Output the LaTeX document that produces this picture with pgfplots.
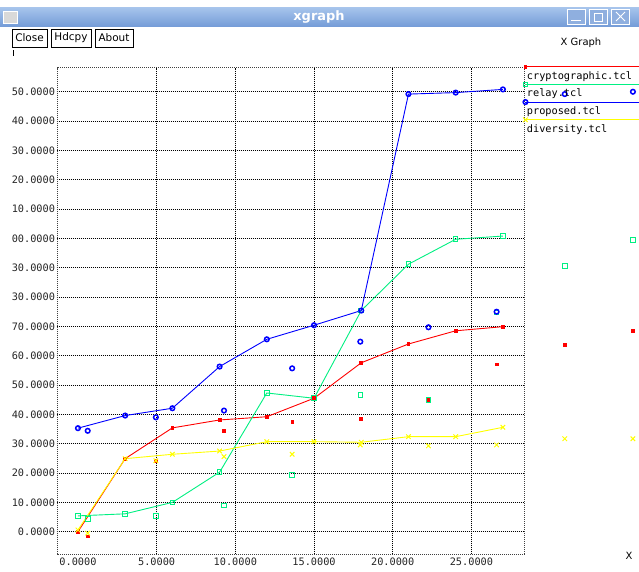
\documentclass[border=0pt]{standalone}
\usepackage{pgfplots}
\pgfplotsset{compat=1.18}
\usepackage{fontspec}
\setmainfont{DejaVu Sans}
\newfontfamily\monof{DejaVu Sans Mono}
\definecolor{xred}{RGB}{255,0,0}
\definecolor{xgreen}{RGB}{0,240,130}
\definecolor{xblue}{RGB}{0,0,255}
\definecolor{xyellow}{RGB}{255,255,0}
\definecolor{titleA}{RGB}{165,195,235}
\definecolor{titleB}{RGB}{115,155,215}
\begin{document}
\begin{tikzpicture}[x=1bp,y=1bp]
\useasboundingbox (0,0) rectangle (639,572);
\fill[white] (0,0) rectangle (639,572);
% window chrome
\shade[top color=titleA, bottom color=titleB] (0,545) rectangle (639,564);
\fill[black!15] (3,549) rectangle (17,561);
\draw[white] (3,549) rectangle (17,561);
\node[white, font=\bfseries\fontsize{13}{15}\selectfont] at (319,555) {xgraph};
\foreach \xx in {567,589,611}{\draw[white, fill=titleB!80] (\xx,548) rectangle (\xx+18,563);}
\draw[white, line width=1bp] (571,551) -- (581,551);
\draw[white, line width=0.8bp] (594,551) rectangle (602,559);
\draw[white, line width=1bp] (616,551) -- (625,560) (616,560) -- (625,551);
\draw[black, fill=white] (12,525) rectangle (47,543);
\draw[black, fill=white] (51,525) rectangle (91,543);
\draw[black, fill=white] (95,525) rectangle (133,543);
\node[font=\fontsize{10.5}{12}\selectfont] at (29.5,534) {Close};
\node[font=\fontsize{10.5}{12}\selectfont] at (71,534) {Hdcpy};
\node[font=\fontsize{10.5}{12}\selectfont] at (114,534) {About};
\draw[black] (13,516) -- (13,522);
\node[font=\fontsize{10}{12}\selectfont] at (581,529) {X Graph};
\node[font=\fontsize{10}{12}\selectfont] at (629,16) {X};
\begin{axis}[
  at={(56.7bp,17.7bp)}, anchor=south west,
  scale only axis, width=467.6bp, height=486.6bp,
  xmin=-1.35, xmax=28.36, ymin=-7.7, ymax=158.2,
  clip=false,
  axis line style={black!75, dash pattern=on 1bp off 1bp},
  grid=major,
  grid style={black, dash pattern=on 1bp off 1bp, line width=0.5bp},
  major tick length=0pt,
  xtick={5,10,15,20,25},
  xticklabels={5.0000,10.0000,15.0000,20.0000,25.0000},
  extra x ticks={0}, extra x tick labels={0.0000},
  extra x tick style={grid=none},
  ytick={0,10,...,150},
  yticklabels={0.0000,10.0000,20.0000,30.0000,40.0000,50.0000,60.0000,70.0000,30.0000,30.0000,00.0000,10.0000,20.0000,30.0000,40.0000,50.0000},
  tick label style={font=\monof\fontsize{10.3}{12}\selectfont, text=black!85},
  xticklabel style={inner sep=1bp, yshift=-2bp},
  yticklabel style={inner sep=1bp, xshift=-0.5bp},
  legend cell align=left,
  legend style={draw=none, fill=none, inner sep=0pt, outer sep=0pt,
    at={(1.0015,0.9947)}, anchor=north west,
    font=\monof\fontsize{10.3}{12}\selectfont,
    row sep=5.7bp, column sep=1bp,
    cells={anchor=base west},
    nodes={text height=9bp, text depth=3bp, inner sep=0pt}},
  legend image code/.code={
    \draw[overlay, #1, mark=none] (0bp,12.6bp) -- (114bp,12.6bp);
    \draw[overlay, #1, only marks] plot coordinates {(0bp,12.6bp)};
    \path (0,0);
  },
]
% cryptographic.tcl
\addplot[xred, line width=0.9bp, mark=square*, mark size=1.4bp] coordinates {
 (0,0) (3,24.9) (6,35.4) (9,38.1) (12,39.2) (15,45.5) (18,57.6) (21,64.0) (24,68.5) (27,69.9)};
\addlegendentry{cryptographic.tcl}
% relay.tcl
\addplot[xgreen, line width=0.9bp, mark=square, mark size=2.3bp, mark options={line width=1bp}] coordinates {
 (0,5.4) (3,6.1) (6,10.0) (9,20.3) (12,47.3) (15,45.5) (18,75.4) (21,91.2) (24,99.7) (27,100.8)};
\addlegendentry{relay.tcl}
% proposed.tcl
\addplot[xblue, line width=0.9bp, mark=o, mark size=2.3bp, mark options={line width=1.5bp}] coordinates {
 (0,35.3) (3,39.6) (6,42.1) (9,56.3) (12,65.6) (15,70.4) (18,75.4) (21,149.2) (24,149.7) (27,150.8)};
\addlegendentry{proposed.tcl}
% diversity.tcl
\addplot[xyellow, line width=0.9bp, mark=x, mark size=3.2bp, mark options={line width=1bp}] coordinates {
 (0,0.6) (3,24.9) (6,26.4) (9,27.5) (12,30.7) (15,30.7) (18,30.5) (21,32.4) (24,32.4) (27,35.6)};
\addlegendentry{diversity.tcl}
% loose markers
\addplot[xred, only marks, mark=square*, mark size=1.4bp, forget plot] coordinates {
 (0.62,-1.5) (4.95,24.2) (9.28,34.4) (13.61,37.5) (17.94,38.4) (22.27,44.9) (26.6,57.1) (30.93,63.7) (35.26,68.4)};
\addplot[xgreen, only marks, mark=square, mark size=2.3bp, mark options={line width=1bp}, forget plot] coordinates {
 (0.62,4.3) (4.95,5.4) (9.28,8.9) (13.61,19.3) (17.94,46.6) (22.27,44.9) (26.6,74.8) (30.93,90.6) (35.26,99.5)};
\addplot[xblue, only marks, mark=o, mark size=2.3bp, mark options={line width=1.5bp}, forget plot] coordinates {
 (0.62,34.4) (4.95,39.0) (9.28,41.3) (13.61,55.7) (17.94,64.8) (22.27,69.7) (26.6,75.0) (30.93,149.2) (35.26,150.0)};
\addplot[xyellow, only marks, mark=x, mark size=3.2bp, mark options={line width=1bp}, forget plot] coordinates {
 (0.62,-0.5) (4.95,24.2) (9.28,25.6) (13.61,26.4) (17.94,29.6) (22.27,29.3) (26.6,29.6) (30.93,31.7) (35.26,31.7)};
\end{axis}
\end{tikzpicture}
\end{document}
